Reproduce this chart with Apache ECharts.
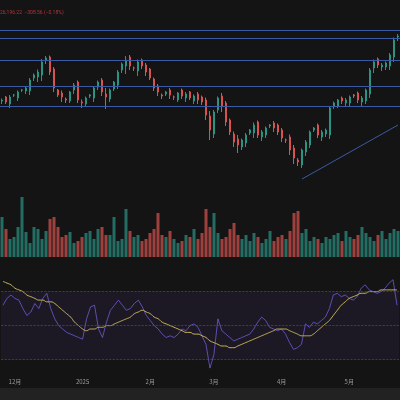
<!DOCTYPE html>
<html>
<head>
<meta charset="utf-8">
<script src="https://cdn.jsdelivr.net/npm/echarts@6/dist/echarts.min.js"></script>
<style>
  html, body { margin: 0; padding: 0; background: #141414; }
  #chart { width: 400px; height: 400px; }
</style>
</head>
<body>
<div id="chart"></div>
<script>
// closing prices (chart units), one per session
const closes = [
    80, 78, 83, 85, 88, 90, 92, 100, 105, 108,
    118, 122, 108, 92, 85, 83, 80, 88, 95, 80,
    77, 82, 85, 92, 98, 88, 83, 90, 98, 108,
    116, 120, 114, 112, 118, 114, 108, 102, 92, 88,
    84, 88, 85, 83, 87, 84, 86, 82, 84, 80,
    78, 65, 50, 68, 82, 74, 58, 48, 38, 35,
    40, 45, 50, 55, 45, 48, 52, 55, 52, 48,
    42, 40, 30, 22, 18, 30, 38, 48, 52, 45,
    48, 50, 72, 77, 80, 79, 80, 83, 84, 80,
    82, 90, 110, 118, 115, 115, 117, 125, 140, 144
];
// open offset from previous close
const gaps = [
    0, 3, -2, 2, -3, 2, -1, -3, 2, -2,
    -3, 2, 1, 3, -2, 2, -2, -1, 2, 3,
    -2, -1, 2, -3, 1, 2, -2, -2, 1, -3,
    2, -2, 3, -2, -3, 2, 1, 3, -1, 2,
    -3, 2, 2, -2, -3, 3, -2, 2, -3, 2,
    3, 2, -1, -4, 2, 2, 3, 2, -2, 3,
    -2, -3, 2, -3, 3, -2, -3, 2, 2, 3,
    2, -2, 3, 2, -2, -3, -2, -3, 2, 3,
    -2, -2, -5, 2, -3, 2, -2, -3, 2, 3,
    -2, -3, -4, 2, 3, -2, -2, -3, -2, 3
];
const wicks = [
    3, 2, 4, 2, 3, 2, 3, 4, 3, 5,
    6, 4, 3, 4, 2, 5, 3, 2, 4, 3,
    5, 3, 2, 4, 3, 4, 12, 3, 2, 4,
    3, 8, 4, 3, 5, 3, 4, 2, 3, 4,
    3, 2, 4, 3, 2, 3, 4, 2, 3, 4,
    3, 5, 10, 4, 3, 6, 4, 3, 5, 8,
    3, 4, 2, 5, 3, 4, 3, 2, 4, 3,
    4, 3, 5, 6, 4, 3, 4, 3, 2, 3,
    4, 3, 4, 3, 2, 3, 4, 3, 2, 3,
    4, 3, 4, 5, 3, 4, 3, 4, 5, 4
];
const volumes = [
    40, 28, 18, 20, 30, 60, 25, 14, 30, 28,
    18, 26, 38, 40, 30, 20, 22, 25, 14, 16,
    20, 24, 26, 18, 28, 30, 22, 22, 40, 16,
    18, 48, 26, 20, 22, 16, 18, 24, 28, 44,
    22, 20, 26, 18, 14, 16, 22, 20, 28, 18,
    24, 48, 30, 44, 24, 18, 20, 28, 34, 22,
    18, 22, 16, 24, 20, 14, 18, 26, 16, 20,
    22, 18, 26, 44, 46, 24, 28, 16, 20, 18,
    14, 20, 18, 22, 24, 16, 26, 20, 18, 22,
    30, 24, 20, 16, 22, 26, 18, 24, 28, 26
];
const rsi = [
    62, 66, 68, 66, 65, 60, 56, 58, 63, 60,
    66, 69, 60, 54, 50, 48, 46, 45, 44, 43,
    42, 54, 61, 62, 48, 43, 52, 59, 62, 65,
    62, 59, 60, 63, 65, 61, 56, 53, 50, 48,
    45, 43, 44, 43, 45, 48, 47, 50, 51, 49,
    44, 39, 25, 33, 54, 47, 45, 43, 41, 42,
    43, 44, 45, 48, 52, 55, 53, 49, 48, 47,
    48, 45, 40, 36, 37, 39, 51, 49, 52, 51,
    53, 55, 60, 68, 69, 67, 68, 66, 65, 67,
    72, 74, 71, 70, 69, 70, 72, 75, 77, 62
];
const rsiMa = [
    76, 75, 74, 72, 71, 70, 68, 67, 66, 65,
    65, 64, 64, 63, 61, 59, 57, 55, 52, 50,
    48, 47, 48, 48, 49, 49, 50, 50, 51, 52,
    53, 54, 55, 57, 58, 59, 58, 57, 55, 54,
    52, 51, 50, 49, 48, 47, 46, 46, 45, 45,
    44, 43, 41, 40, 39, 38, 38, 37, 37, 38,
    39, 40, 41, 42, 43, 44, 45, 46, 47, 48,
    48, 48, 47, 46, 45, 44, 44, 44, 45, 47,
    49, 51, 53, 56, 59, 62, 64, 66, 67, 68,
    69, 69, 70, 70, 70, 71, 71, 71, 71, 71
];
const levels = [149.5, 141.5, 120, 94, 73.5];
const trendLine = [[75, 1], [99, 55]];
const tickLabels = { 3: '12月', 20: '2025', 37: '2月', 53: '3月', 70: '4月', 87: '5月' };

const UP = '#2a9384';
const DOWN = '#d9524f';
const LEVEL = { color: '#3b5aa6', width: 1, type: 'solid' };

const categories = closes.map((_, i) => String(i));
const candles = closes.map((c, i) => {
    const o = (i === 0 ? 79 : closes[i - 1]) + gaps[i];
    return [o, c, Math.min(o, c) - wicks[i], Math.max(o, c) + wicks[i] * 0.5];
});
const volData = volumes.map((v, i) => ({
    value: v,
    itemStyle: { color: candles[i][1] >= candles[i][0] ? 'rgba(42,147,132,0.7)' : 'rgba(217,82,79,0.7)' }
}));

const chart = echarts.init(document.getElementById('chart'));
const hiddenX = (gi) => ({
    type: 'category', data: categories, gridIndex: gi, boundaryGap: true,
    axisLine: { show: false }, axisTick: { show: false }, axisLabel: { show: false }, splitLine: { show: false }
});

chart.setOption({
    backgroundColor: '#141414',
    animation: false,
    grid: [
        { left: 0, right: 0, top: 20, height: 160 },
        { left: 0, right: 0, top: 180, height: 77 },
        { left: 0, right: 0, top: 261, height: 119 }
    ],
    xAxis: [
        hiddenX(0),
        hiddenX(1),
        {
            ...hiddenX(2),
            axisLabel: {
                show: true, interval: 0, color: '#9a9a9a', fontSize: 6, margin: -1,
                fontFamily: 'Noto Sans CJK SC',
                formatter: (v, i) => tickLabels[i] || ''
            }
        }
    ],
    yAxis: [
        { gridIndex: 0, min: 0, max: 160, show: false },
        { gridIndex: 1, min: 0, max: 77, show: false },
        { gridIndex: 2, min: 18, max: 88, show: false }
    ],
    graphic: [
        { type: 'rect', shape: { x: 0, y: 388, width: 400, height: 12 }, style: { fill: '#222222' } },
        { type: 'text', left: 0, top: 10, style: { text: '26,196.22  −308.56 (−0.18%)', fill: '#b8323c', fontSize: 5, fontFamily: 'Roboto' } }
    ],
    series: [
        {
            type: 'candlestick', data: candles, xAxisIndex: 0, yAxisIndex: 0, barWidth: '60%',
            itemStyle: { color: UP, color0: DOWN, borderColor: UP, borderColor0: DOWN, borderWidth: 1 },
            markLine: {
                symbol: 'none', silent: true, label: { show: false },
                lineStyle: LEVEL,
                data: levels.map(v => ({ yAxis: v, lineStyle: LEVEL })).concat([[
                    { xAxis: trendLine[0][0], yAxis: trendLine[0][1], lineStyle: LEVEL },
                    { xAxis: trendLine[1][0], yAxis: trendLine[1][1] }
                ]])
            }
        },
        { type: 'bar', data: volData, xAxisIndex: 1, yAxisIndex: 1, barWidth: '75%' },
        {
            type: 'line', data: rsi, xAxisIndex: 2, yAxisIndex: 2, symbol: 'none',
            lineStyle: { color: '#6f5bd0', width: 0.8 },
            markArea: { silent: true, itemStyle: { color: 'rgba(110,80,200,0.1)' }, data: [[{ yAxis: 30 }, { yAxis: 70 }]] },
            markLine: {
                symbol: 'none', silent: true, label: { show: false },
                lineStyle: { color: '#555', width: 0.6, type: 'dashed' },
                data: [{ yAxis: 70 }, { yAxis: 50 }, { yAxis: 30 }]
            }
        },
        {
            type: 'line', data: rsiMa, xAxisIndex: 2, yAxisIndex: 2, symbol: 'none', smooth: true,
            lineStyle: { color: '#c9b45a', width: 1 }
        }
    ]
});
</script>
</body>
</html>
